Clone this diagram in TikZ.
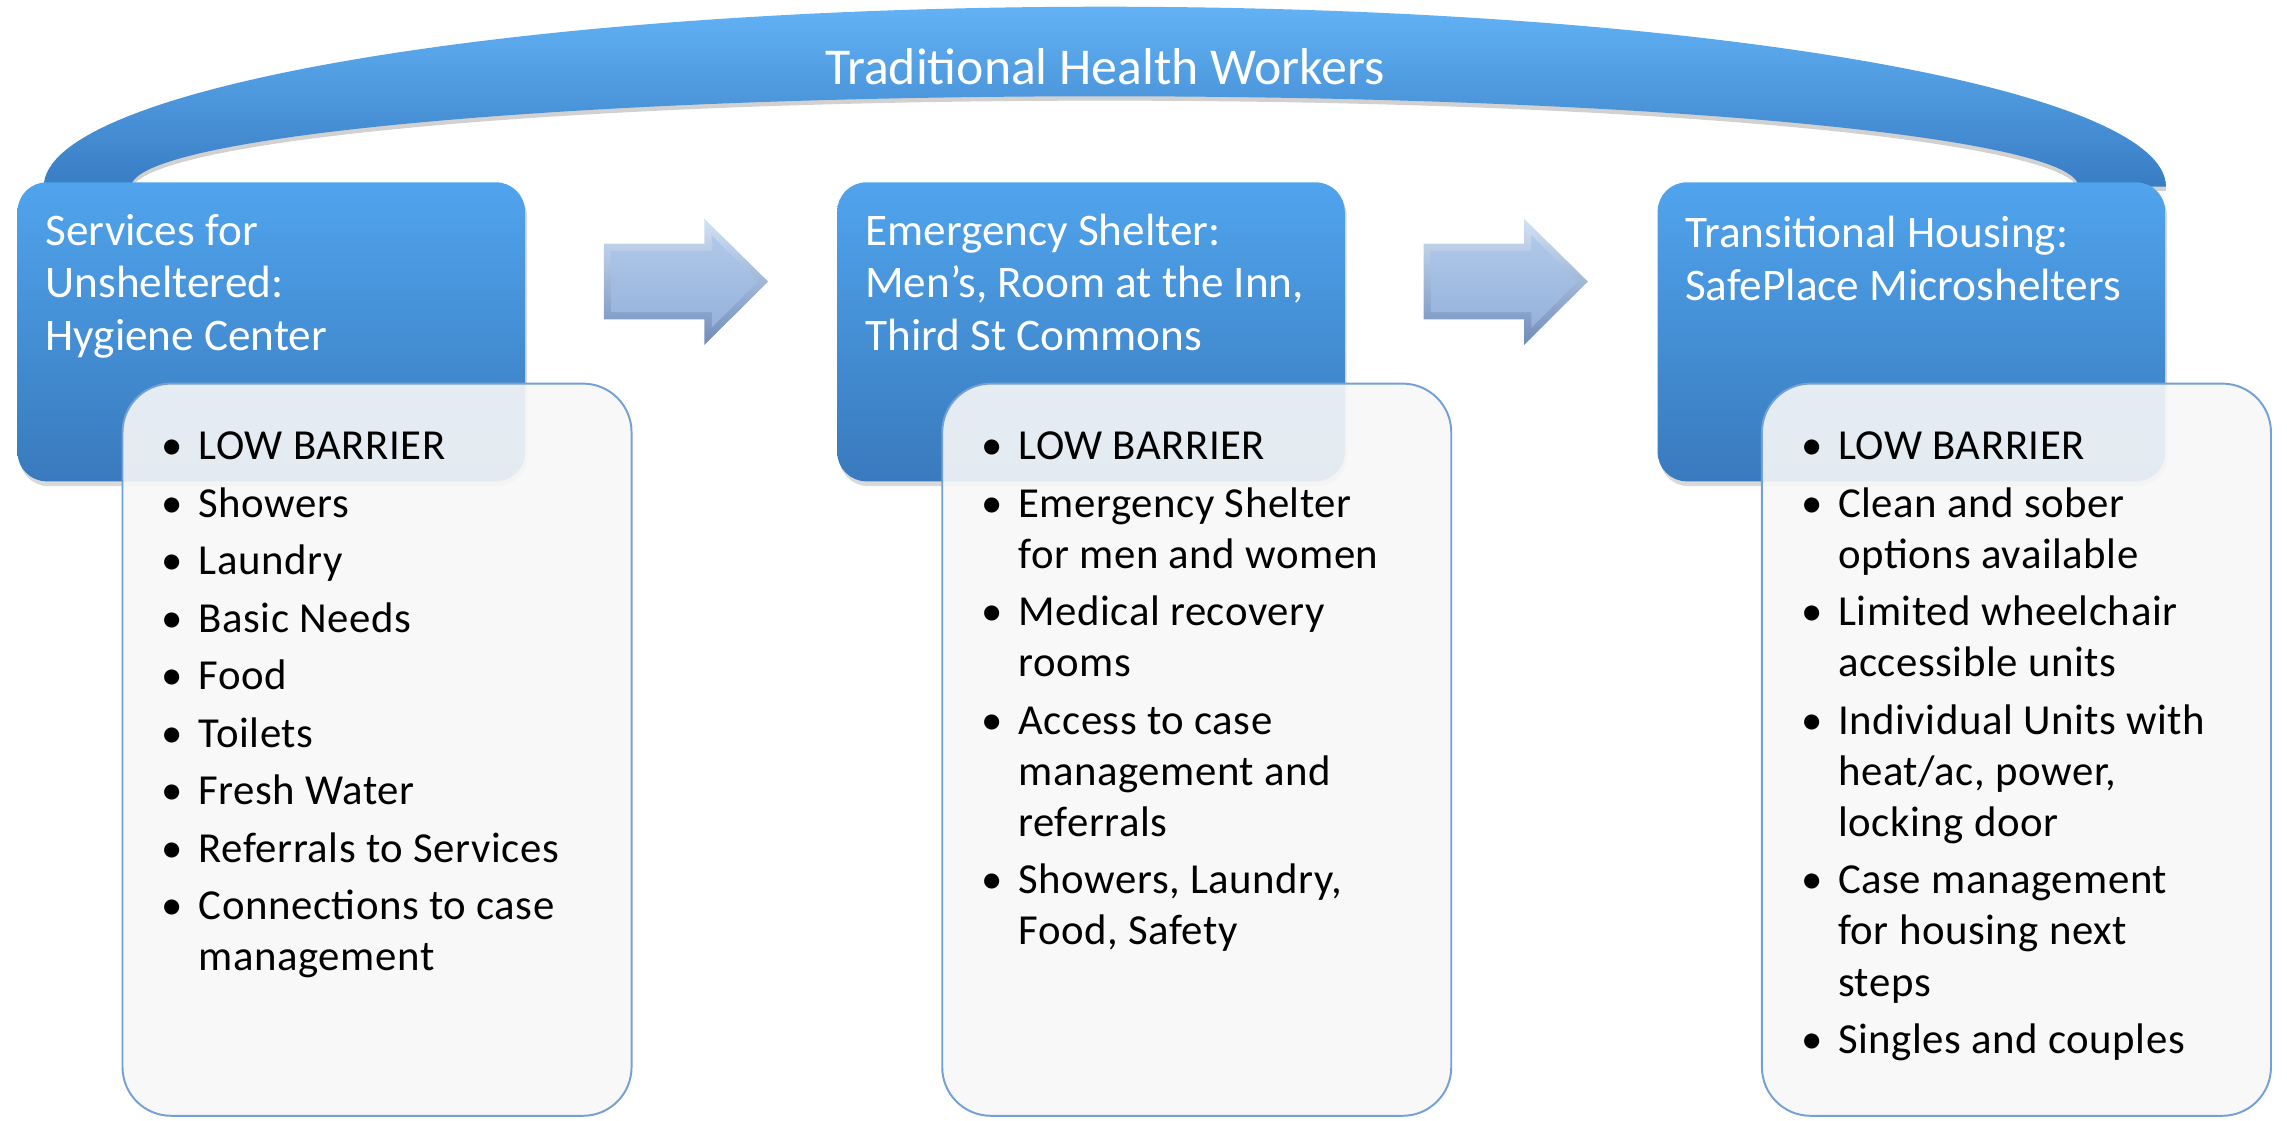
\documentclass[tikz,border=0pt]{standalone}
\usepackage{fontspec}
\setmainfont{Carlito}
\newfontfamily\listfamily[LetterSpace=1.3]{Carlito}
\usepackage{xcolor}
\usetikzlibrary{shadows}

\definecolor{stagetop}{RGB}{80,164,237}
\definecolor{stagebottom}{RGB}{57,122,189}
\definecolor{bandtop}{RGB}{98,178,245}
\definecolor{bandmid}{RGB}{74,157,232}
\definecolor{bandbottom}{RGB}{56,124,196}
\definecolor{listfill}{RGB}{247,247,247}
\definecolor{listedge}{RGB}{115,160,214}
\definecolor{arrowlight}{RGB}{210,226,245}
\definecolor{arrowdark}{RGB}{112,140,186}
\definecolor{arrowtop}{RGB}{176,200,233}
\definecolor{arrowbottom}{RGB}{150,178,218}

\newcommand{\stagefont}{\fontsize{23.25pt}{27pt}\selectfont}
\newcommand{\listfont}{\listfamily\fontsize{22pt}{26.25pt}\selectfont}
\newcommand{\listpoint}[1]{\hangindent=39pt\hangafter=1\noindent\makebox[39pt][l]{\hspace{25.5pt}\makebox[0pt]{\textbullet}}#1\par\vskip3.3pt}

\begin{document}
\begin{tikzpicture}[x=0.75pt,y=0.75pt,yscale=-1,xscale=1,
  stagebox/.style={rectangle, rounded corners=15pt, minimum width=261pt, minimum height=153.75pt, top color=stagetop, bottom color=stagebottom, draw=none, drop shadow={opacity=0.3, shadow xshift=1pt, shadow yshift=-2.5pt}},
  listbox/.style={rectangle, rounded corners=25pt, minimum width=261.75pt, minimum height=376.5pt, fill=listfill, fill opacity=0.9, draw=listedge, line width=1pt},
  stagetext/.style={anchor=base west, inner sep=0pt, text=white},
  listtext/.style={anchor=base west, inner sep=0pt, text=black}]
\useasboundingbox (0,0) rectangle (1568,768);

%Shape: Block Arc (shadow)
\fill [black, opacity=0.18] (30,131) arc[start angle=180, end angle=360, x radius=727.5, y radius=123.4] -- (1425,131) arc[start angle=0, end angle=-180, x radius=667.5, y radius=62] -- cycle ;
%Shape: Block Arc
\path [top color=bandtop, middle color=bandmid, bottom color=bandbottom] (30,128) arc[start angle=180, end angle=360, x radius=727.5, y radius=123.4] -- (1425,128) arc[start angle=0, end angle=-180, x radius=667.5, y radius=62] -- cycle ;

% Text Node
\node [anchor=base, inner sep=0pt, text=white, font=\fontsize{26.6pt}{30pt}\selectfont] (thwLabel) at (757.5,57.6) {Traditional Health Workers};

%Rounded Rect
\node [stagebox] (hygieneBox) at (186,227.5) {};
%Rounded Rect
\node [stagebox] (shelterBox) at (748,227.5) {};
%Rounded Rect
\node [stagebox] (housingBox) at (1310.5,227.5) {};

%Right Arrow
\path [top color=arrowlight, bottom color=arrowdark] (414,167) -- (483,167) -- (483,150) -- (526.6,193) -- (483,236.5) -- (483,219) -- (414,219) -- cycle ;
\path [top color=arrowtop, bottom color=arrowbottom] (419,172) -- (488,172) -- (488,161.4) -- (519.6,193) -- (488,224.6) -- (488,214) -- (419,214) -- cycle ;
%Right Arrow
\path [top color=arrowlight, bottom color=arrowdark] (976,167) -- (1045,167) -- (1045,150) -- (1088.6,193) -- (1045,236.5) -- (1045,219) -- (976,219) -- cycle ;
\path [top color=arrowtop, bottom color=arrowbottom] (981,172) -- (1050,172) -- (1050,161.4) -- (1081.6,193) -- (1050,224.6) -- (1050,214) -- (981,214) -- cycle ;

%Rounded Rect
\node [listbox] (hygieneList) at (258.5,514) {};
%Rounded Rect
\node [listbox] (shelterList) at (820.5,514) {};
%Rounded Rect
\node [listbox] (housingList) at (1382.5,514) {};

% Text Node
\node [stagetext] (hygieneText) at (31,168) {\begin{minipage}[t]{240pt}\stagefont
Services for\\Unsheltered:\\Hygiene Center
\end{minipage}};
% Text Node
\node [stagetext] (shelterText) at (593,168) {\begin{minipage}[t]{240pt}\stagefont
Emergency Shelter:\\Men’s, Room at the Inn,\\Third St Commons
\end{minipage}};
% Text Node
\node [stagetext] (housingText) at (1155,170) {\begin{minipage}[t]{240pt}\stagefont
Transitional Housing:\\SafePlace Microshelters
\end{minipage}};

% Text Node
\node [listtext] (hygieneItems) at (84,315.3) {\begin{minipage}[t]{260pt}\listfont
\listpoint{LOW BARRIER}
\listpoint{Showers}
\listpoint{Laundry}
\listpoint{Basic Needs}
\listpoint{Food}
\listpoint{Toilets}
\listpoint{Fresh Water}
\listpoint{Referrals to Services}
\listpoint{Connections to case\newline management}
\end{minipage}};
% Text Node
\node [listtext] (shelterItems) at (646,315.3) {\begin{minipage}[t]{260pt}\listfont
\listpoint{LOW BARRIER}
\listpoint{Emergency Shelter\newline for men and women}
\listpoint{Medical recovery\newline rooms}
\listpoint{Access to case\newline management and\newline referrals}
\listpoint{Showers, Laundry,\newline Food, Safety}
\end{minipage}};
% Text Node
\node [listtext] (housingItems) at (1208,315.3) {\begin{minipage}[t]{260pt}\listfont
\listpoint{LOW BARRIER}
\listpoint{Clean and sober\newline options available}
\listpoint{Limited wheelchair\newline accessible units}
\listpoint{Individual Units with\newline heat/ac, power,\newline locking door}
\listpoint{Case management\newline for housing next\newline steps}
\listpoint{Singles and couples}
\end{minipage}};

\end{tikzpicture}
\end{document}
